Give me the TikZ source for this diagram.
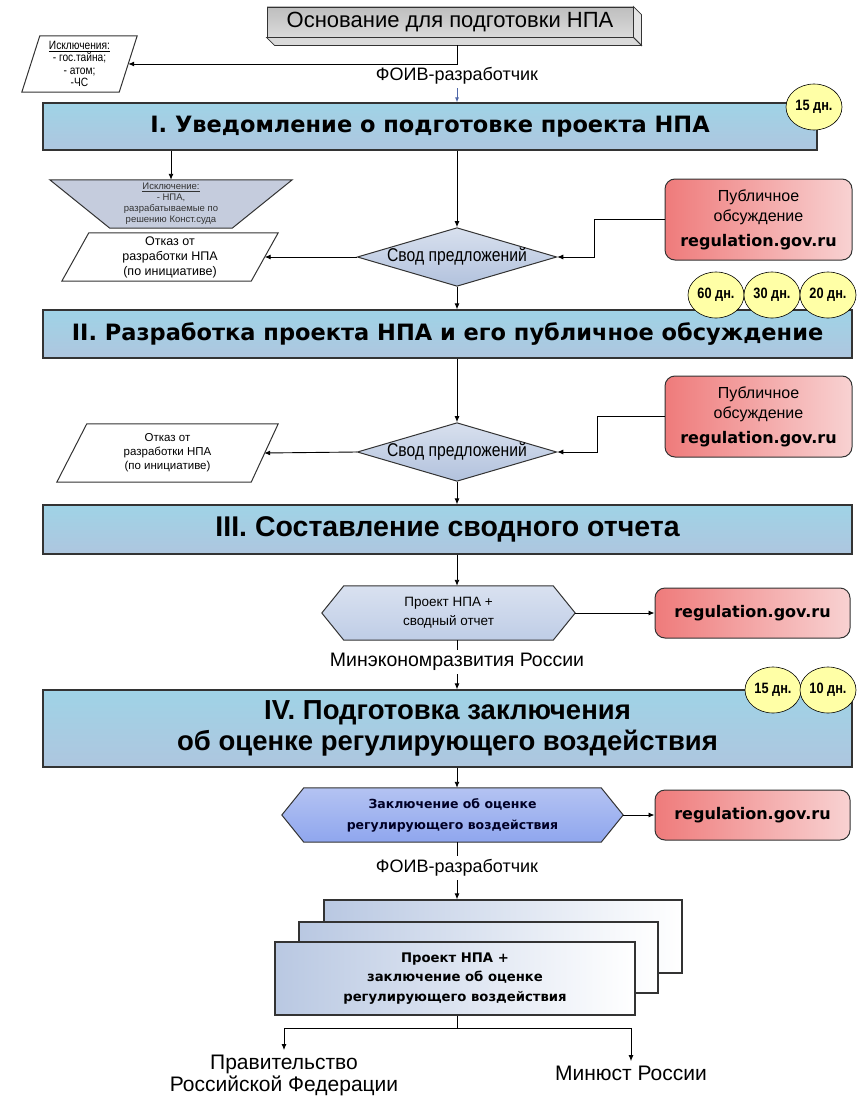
\documentclass[tikz,border=0pt]{standalone}
\usepackage{fontspec}
\setmainfont{Liberation Sans}
\newfontfamily\dvs{DejaVu Sans}
\newfontfamily\narrowf{Liberation Sans}[FakeStretch=0.85]
\usetikzlibrary{shapes.geometric,arrows.meta,backgrounds,calc}
\definecolor{edge}{HTML}{333333}
\definecolor{stageA}{HTML}{9FD3E6}
\definecolor{stageB}{HTML}{AEC6DF}
\definecolor{badgeY}{HTML}{FFFFA6}
\definecolor{redL}{HTML}{EF7B7B}
\definecolor{redR}{HTML}{F8D2D2}
\definecolor{diaA}{HTML}{B2C2DD}
\definecolor{diaB}{HTML}{D8E0EE}
\definecolor{hexA}{HTML}{BFCDE6}
\definecolor{hexB}{HTML}{D9E1F0}
\definecolor{hexC}{HTML}{8FA6EE}
\definecolor{hexD}{HTML}{B4C3F2}
\definecolor{trapC}{HTML}{C5CCDD}
\definecolor{baseA}{HTML}{BEBEBE}
\definecolor{baseB}{HTML}{DADADA}
\definecolor{bevelC}{HTML}{E4E4E4}
\definecolor{stackL}{HTML}{B9C8E2}
\definecolor{arrblueC}{HTML}{5068A8}
\begin{document}
\begin{tikzpicture}[x=1pt,y=-1pt,
  conn/.style={draw=black, line width=0.9pt},
  arr/.style={conn, -{Latex[length=6pt,width=5pt]}},
  stagebox/.style={draw=edge, line width=1.2pt, top color=stageA, bottom color=stageB, inner sep=0pt, align=center},
  badge/.style={ellipse, draw=black, line width=0.6pt, fill=badgeY, minimum width=56pt, minimum height=46pt, inner sep=0pt, font=\narrowf\bfseries\fontsize{15}{16}\selectfont},
  redbox/.style={draw=edge, line width=1pt, rounded corners=10pt, left color=redL, right color=redR, inner sep=0pt, align=center},
  dia/.style={diamond, aspect=3.4, draw=edge, line width=1pt, top color=diaB, bottom color=diaA, inner sep=0pt, minimum width=195pt, minimum height=58pt, font=\narrowf\fontsize{18.5}{20}\selectfont},
  holder/.style={inner sep=0pt, align=center},
  shapeline/.style={draw=edge, line width=1pt},
  stackbox/.style={draw=edge, line width=1.2pt, left color=stackL, right color=white, inner sep=0pt, align=center},
  pubtext/.style={font=\fontsize{16}{20}\selectfont},
]
\useasboundingbox (0,0) rectangle (857,1097);
\coordinate (axis) at (457,0);

% ---- base box ----
\node[draw=edge, line width=0.9pt, top color=baseA, bottom color=baseB, minimum width=366pt, minimum height=30pt, inner sep=0pt, font=\fontsize{22}{24}\selectfont] (base) at (450,22) {Основание для подготовки НПА};
\begin{scope}[on background layer]
\path[draw=edge, line width=0.8pt, fill=bevelC] (base.north east) -- ++(8,8) -- ($(base.south east)+(8,8)$) -- (base.south east) -- cycle;
\path[draw=edge, line width=0.8pt, fill=baseB] (base.south west) -- (base.south east) -- ($(base.south east)+(8,8)$) -- ($(base.south west)+(8,8)$) -- cycle;
\end{scope}
\coordinate (basebot) at ($(axis |- base.south)+(0,8)$);

% ---- exceptions ----
\node[holder, minimum width=115pt, minimum height=56pt, font=\narrowf\fontsize{12}{12.5}\selectfont] (exc1) at (79.5,64) {\underline{Исключения:}\\- гос.тайна;\\- атом;\\-ЧС};
\begin{scope}[on background layer]
\path[shapeline, fill=white] ($(exc1.north west)+(18,0)$) -- (exc1.north east) -- ($(exc1.south east)+(-18,0)$) -- (exc1.south west) -- cycle;
\end{scope}
\coordinate (exc1e) at ($(exc1.east)+(-9,0)$);
\draw[arr] (basebot) |- (exc1e);

\node[font=\fontsize{18}{20}\selectfont] (foiv1) at (457,76) {ФОИВ-разработчик};

% ---- stage I ----
\node[stagebox, minimum width=774pt, minimum height=47pt, font=\dvs\bfseries\fontsize{22.5}{25}\selectfont] (st1) at (430,126.5) {I. Уведомление о подготовке проекта НПА};
\draw[draw=arrblueC, line width=0.9pt, -{Latex[length=5pt,width=4pt]}] (foiv1.south) -- (axis |- st1.north);
\node[badge] (bd1) at (814,107) {15 дн.};

% ---- trapezoid ----
\node[holder, minimum width=242pt, minimum height=48pt, font=\fontsize{9.5}{11}\selectfont, text=black!80] (trap) at (171,204) {\underline{Исключение:}\\- НПА,\\разрабатываемые по\\решению Конст.суда};
\begin{scope}[on background layer]
\path[shapeline, fill=trapC] (trap.north west) -- (trap.north east) -- ($(trap.south east)+(-60,0)$) -- ($(trap.south west)+(60,0)$) -- cycle;
\end{scope}
\draw[arr] (st1.south -| trap.north) -- (trap.north);

% ---- otkaz 1 ----
\node[holder, minimum width=216pt, minimum height=48pt, font=\fontsize{12.5}{15}\selectfont] (otk1) at (170,257) {Отказ от\\разработки НПА\\(по инициативе)};
\begin{scope}[on background layer]
\path[shapeline, fill=white] ($(otk1.north west)+(27,0)$) -- (otk1.north east) -- ($(otk1.south east)+(-27,0)$) -- (otk1.south west) -- cycle;
\end{scope}
\coordinate (otk1e) at ($(otk1.east)+(-13.5,0)$);

% ---- svod 1 ----
\node[dia] (sv1) at (457,257) {Свод предложений};
\draw[arr] (axis |- st1.south) -- (sv1.north);
\draw[arr] (sv1.west) -- (otk1e);

\node[redbox, minimum width=187pt, minimum height=81pt, pubtext] (pub1) at (758.5,219.5) {Публичное\\обсуждение\\[5pt]{\dvs\bfseries\fontsize{16}{18}\selectfont regulation.gov.ru}};
\draw[arr] (pub1.west) -- ++(-70,0) |- (sv1.east);

% ---- stage II ----
\node[stagebox, minimum width=809pt, minimum height=48pt, font=\dvs\bfseries\fontsize{22.5}{25}\selectfont] (st2) at (447.5,334) {II. Разработка проекта НПА и его публичное обсуждение};
\draw[arr] (sv1.south) -- (axis |- st2.north);
\node[badge] (bd60) at (716,295) {60 дн.};
\node[badge] (bd30) at (772,295) {30 дн.};
\node[badge] (bd20) at (828,295) {20 дн.};

% ---- svod 2 ----
\node[dia] (sv2) at (457,452) {Свод предложений};
\draw[arr] (axis |- st2.south) -- (sv2.north);
\node[holder, minimum width=221pt, minimum height=58pt, font=\fontsize{11.5}{14}\selectfont] (otk2) at (167.5,453) {Отказ от\\разработки НПА\\(по инициативе)};
\begin{scope}[on background layer]
\path[shapeline, fill=white] ($(otk2.north west)+(30,0)$) -- (otk2.north east) -- ($(otk2.south east)+(-27,0)$) -- (otk2.south west) -- cycle;
\end{scope}
\coordinate (otk2e) at ($(otk2.east)+(-14,0)$);
\draw[arr] (sv2.west) -- (otk2e);
\node[redbox, minimum width=187pt, minimum height=81pt, pubtext] (pub2) at (758.5,416.5) {Публичное\\обсуждение\\[5pt]{\dvs\bfseries\fontsize{16}{18}\selectfont regulation.gov.ru}};
\draw[arr] (pub2.west) -- ++(-67,0) |- (sv2.east);

% ---- stage III ----
\node[stagebox, minimum width=809pt, minimum height=49pt, font=\bfseries\fontsize{28.5}{30}\selectfont] (st3) at (447.5,529.5) {III. Составление сводного отчета};
\draw[arr] (sv2.south) -- (axis |- st3.north);

% ---- hexagon 1 ----
\node[holder, minimum width=253pt, minimum height=54pt, font=\fontsize{13.5}{19}\selectfont] (hex1) at (448.5,613) {Проект НПА +\\сводный отчет};
\begin{scope}[on background layer]
\path[shapeline, top color=hexB, bottom color=hexA] (hex1.west) -- ($(hex1.north west)+(22,0)$) -- ($(hex1.north east)+(-22,0)$) -- (hex1.east) -- ($(hex1.south east)+(-22,0)$) -- ($(hex1.south west)+(22,0)$) -- cycle;
\end{scope}
\draw[arr] (axis |- st3.south) -- (axis |- hex1.north);
\node[redbox, minimum width=195pt, minimum height=50pt, font=\dvs\bfseries\fontsize{16}{18}\selectfont] (reg3) at (752.5,613) {regulation.gov.ru};
\draw[arr] (hex1.east) -- (reg3.west);

\node[font=\fontsize{19.5}{22}\selectfont] (mer) at (457,662) {Минэкономразвития России};
\draw[conn] (axis |- hex1.south) -- (mer.north);

% ---- stage IV ----
\node[stagebox, minimum width=809pt, minimum height=77pt, font=\bfseries\fontsize{27.5}{31}\selectfont] (st4) at (447.5,728.5) {IV. Подготовка заключения\\об оценке регулирующего воздействия};
\draw[arr] (mer.south) -- (axis |- st4.north);
\node[badge] (bd15) at (773,690) {15 дн.};
\node[badge] (bd10) at (828,690) {10 дн.};

% ---- hexagon 2 ----
\node[holder, minimum width=341pt, minimum height=54pt, font=\dvs\bfseries\fontsize{12.5}{21}\selectfont, text=black!85!blue] (hex2) at (452.5,815) {Заключение об оценке\\регулирующего воздействия};
\begin{scope}[on background layer]
\path[shapeline, top color=hexD, bottom color=hexC] (hex2.west) -- ($(hex2.north west)+(22,0)$) -- ($(hex2.north east)+(-22,0)$) -- (hex2.east) -- ($(hex2.south east)+(-22,0)$) -- ($(hex2.south west)+(22,0)$) -- cycle;
\end{scope}
\draw[arr] (axis |- st4.south) -- (axis |- hex2.north);
\node[redbox, minimum width=195pt, minimum height=50pt, font=\dvs\bfseries\fontsize{16}{18}\selectfont] (reg4) at (752.5,815) {regulation.gov.ru};
\draw[arr] (hex2.east) -- (reg4.west);

\node[font=\fontsize{18}{20}\selectfont] (foiv2) at (457,868) {ФОИВ-разработчик};
\draw[conn] (axis |- hex2.south) -- (foiv2.north);

% ---- stacked boxes ----
\node[stackbox, minimum width=358pt, minimum height=73pt] (stackc) at (503,936.5) {};
\node[stackbox, minimum width=359pt, minimum height=71pt] (stackb) at (478.5,957.5) {};
\node[stackbox, minimum width=360pt, minimum height=73pt, font=\dvs\bfseries\fontsize{13.2}{19.5}\selectfont] (stacka) at (455,978.5) {Проект НПА +\\заключение об оценке\\регулирующего воздействия};
\draw[arr] (foiv2.south) -- (axis |- stackc.north);

\node[align=center, font=\fontsize{21}{22}\selectfont] (gov) at (284,1075) {Правительство\\Российской Федерации};
\node[font=\fontsize{21}{22}\selectfont] (minjust) at (631,1073) {Минюст России};
\coordinate (split) at ($(axis |- stacka.south)+(0,13)$);
\draw[conn] (axis |- stacka.south) -- (split);
\draw[arr] (split) -| ($(gov.north)+(0,-1)$);
\draw[arr] (split) -| ($(minjust.north)+(0,-1)$);
\end{tikzpicture}
\end{document}
